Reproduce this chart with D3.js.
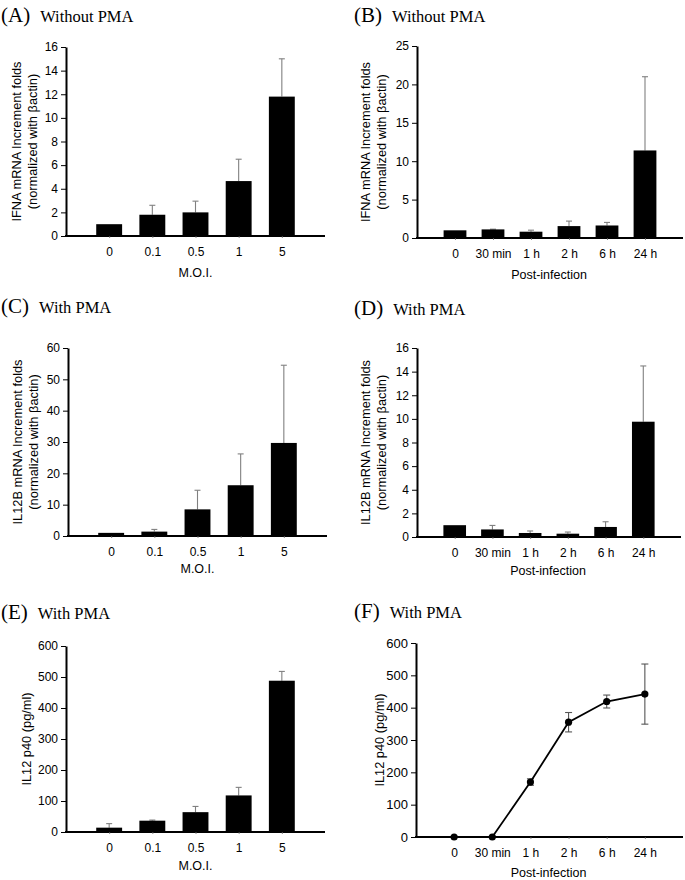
<!DOCTYPE html>
<html>
<head>
<meta charset="utf-8">
<script src="https://cdn.jsdelivr.net/npm/d3@7"></script>
<style>
  html, body { margin: 0; padding: 0; background: #fff; }
  svg { display: block; }
</style>
</head>
<body>
<svg id="chart" width="685" height="880"></svg>
<script>
// ---------- DATA ----------
const moiCats  = ["0", "0.1", "0.5", "1", "5"];
const timeCats = ["0", "30 min", "1 h", "2 h", "6 h", "24 h"];

const ifnaMoi      = [1.0, 1.8, 2.0, 4.65, 11.8];
const ifnaMoiErr   = [0, 0.8, 0.95, 1.85, 3.2];
const ifnaTime     = [1.0, 1.12, 0.82, 1.55, 1.63, 11.4];
const ifnaTimeErr  = [0, 0.03, 0.2, 0.65, 0.4, 9.6];

const il12bMoi     = [1.0, 1.4, 8.5, 16.2, 29.7];
const il12bMoiErr  = [0, 0.7, 6.1, 10.0, 24.8];
const il12bTime    = [1.0, 0.64, 0.34, 0.28, 0.85, 9.76];
const il12bTimeErr = [0, 0.34, 0.17, 0.14, 0.44, 4.72];

const p40Moi       = [14, 36.5, 64, 118, 488];
const p40MoiErr    = [13, 2, 18.5, 26, 30];
const p40Time      = [0, 0, 170, 355, 419, 442];
const p40TimeErr   = [0, 0, 10, 30, 20, 93];

const ticksA = [0, 2, 4, 6, 8, 10, 12, 14, 16];
const ticksB = [0, 5, 10, 15, 20, 25];
const ticksC = [0, 10, 20, 30, 40, 50, 60];
const ticksD = [0, 2, 4, 6, 8, 10, 12, 14, 16];
const ticksE = [0, 100, 200, 300, 400, 500, 600];
const ticksF = [0, 100, 200, 300, 400, 500, 600];

// ---------- DRAWING ----------
const svg = d3.select("#chart");
const sans = "'Liberation Sans', Arial, Helvetica, sans-serif";
const serif = "'Liberation Serif', 'Times New Roman', serif";

function panel(cfg) {
  const g = svg.append("g");
  const tf = cfg.tickFont || 12;
  // title
  const t = g.append("text")
    .attr("x", cfg.tx).attr("y", cfg.ty)
    .attr("font-family", serif).attr("fill", "#000");
  t.append("tspan").attr("font-size", 21).text(cfg.letter);
  t.append("tspan").attr("font-size", 16.5).attr("dx", 10).text(cfg.title);

  const x = d3.scalePoint().domain(cfg.cats).range([cfg.x0, cfg.x1]).padding(1);
  const yMax = cfg.ticks[cfg.ticks.length - 1];
  const y = d3.scaleLinear().domain([0, yMax]).range([cfg.y0, cfg.yTop]);
  const bw = x.step() * 0.6;

  if (cfg.type === "bar") {
    const eb = g.append("g").attr("stroke", "#808080").attr("stroke-width", 1.1);
    cfg.cats.forEach((c, i) => {
      if (cfg.err[i] <= 0) return;
      const cx = x(c);
      eb.append("line").attr("x1", cx).attr("x2", cx)
        .attr("y1", y(cfg.vals[i])).attr("y2", y(cfg.vals[i] + cfg.err[i]));
      eb.append("line").attr("x1", cx - 3).attr("x2", cx + 3)
        .attr("y1", y(cfg.vals[i] + cfg.err[i])).attr("y2", y(cfg.vals[i] + cfg.err[i]));
    });
    g.append("g").selectAll("rect").data(cfg.cats).join("rect")
      .attr("x", c => x(c) - bw / 2)
      .attr("width", bw)
      .attr("y", (c, i) => y(cfg.vals[i]))
      .attr("height", (c, i) => y(0) - y(cfg.vals[i]))
      .attr("fill", "#000");
  }

  // y axis
  const yAxis = d3.axisLeft(y).tickValues(cfg.ticks).tickSize(5).tickSizeOuter(0).tickPadding(3);
  const ya = g.append("g").attr("transform", `translate(${cfg.x0},0)`).call(yAxis);
  ya.select(".domain").attr("stroke", "#000").attr("stroke-width", 2);
  ya.selectAll(".tick line").attr("stroke", "#000").attr("stroke-width", 1);
  ya.selectAll(".tick text").attr("font-family", sans).attr("font-size", tf).attr("fill", "#000");

  // x axis
  const xAxis = d3.axisBottom(x).tickSize(2).tickSizeOuter(0).tickPadding(9);
  const xa = g.append("g").attr("transform", `translate(0,${cfg.y0})`).call(xAxis);
  xa.select(".domain").attr("stroke", "#000").attr("stroke-width", 2)
    .attr("d", `M${cfg.x0 - 1},0H${cfg.x1}`);
  xa.selectAll(".tick line").attr("stroke", "#666").attr("stroke-width", 0.8);
  xa.selectAll(".tick text").attr("font-family", sans).attr("font-size", 12).attr("fill", "#000");

  // x title
  g.append("text").attr("x", (cfg.x0 + cfg.x1) / 2 + cfg.xtOff).attr("y", cfg.y0 + cfg.xtDy)
    .attr("text-anchor", "middle").attr("font-family", sans).attr("font-size", 12.5)
    .attr("fill", "#000").text(cfg.xTitle);

  // y title
  const yc = (cfg.y0 + cfg.yTop) / 2;
  cfg.yTitle.forEach((line, k) => {
    g.append("text")
      .attr("transform", `translate(${cfg.ytx + k * 16},${yc}) rotate(-90)`)
      .attr("text-anchor", "middle").attr("font-family", sans).attr("font-size", 12.8)
      .attr("fill", "#000").text(line);
  });

  if (cfg.type === "line") {
    const eb = g.append("g").attr("stroke", "#555").attr("stroke-width", 1.1);
    cfg.cats.forEach((c, i) => {
      if (cfg.err[i] <= 0) return;
      const cx = x(c);
      const lo = y(cfg.vals[i] - cfg.err[i]), hi = y(cfg.vals[i] + cfg.err[i]);
      eb.append("line").attr("x1", cx).attr("x2", cx).attr("y1", lo).attr("y2", hi);
      eb.append("line").attr("x1", cx - 3.5).attr("x2", cx + 3.5).attr("y1", lo).attr("y2", lo);
      eb.append("line").attr("x1", cx - 3.5).attr("x2", cx + 3.5).attr("y1", hi).attr("y2", hi);
    });
    const pts = cfg.cats.map((c, i) => [x(c), y(cfg.vals[i])]);
    g.append("path").datum(pts.slice(1))
      .attr("d", d3.line())
      .attr("fill", "none").attr("stroke", "#000").attr("stroke-width", 1.8);
    g.append("g").selectAll("circle").data(pts).join("circle")
      .attr("cx", d => d[0]).attr("cy", d => d[1]).attr("r", 3.6).attr("fill", "#000");
  }
}

const mrnaTitle = (gene) => [gene + " mRNA Increment folds", "(normalized with \u03b2actin)"];

panel({ letter: "(A)", title: "Without PMA", tx: 1, ty: 22, type: "bar",
  cats: moiCats, vals: ifnaMoi, err: ifnaMoiErr, ticks: ticksA,
  x0: 66, x1: 325, yTop: 47, y0: 236, xTitle: "M.O.I.", xtDy: 41, xtOff: 0,
  yTitle: mrnaTitle("IFNA"), ytx: 21 });

panel({ letter: "(B)", title: "Without PMA", tx: 354, ty: 22, type: "bar",
  cats: timeCats, vals: ifnaTime, err: ifnaTimeErr, ticks: ticksB,
  x0: 417, x1: 683, yTop: 46, y0: 238, xTitle: "Post-infection", xtDy: 41, xtOff: -1,
  yTitle: mrnaTitle("IFNA"), ytx: 370 });

panel({ letter: "(C)", title: "With PMA", tx: 1, ty: 313, type: "bar",
  cats: moiCats, vals: il12bMoi, err: il12bMoiErr, ticks: ticksC,
  x0: 68, x1: 327, yTop: 348, y0: 536, xTitle: "M.O.I.", xtDy: 37, xtOff: 0,
  yTitle: mrnaTitle("IL12B"), ytx: 22 });

panel({ letter: "(D)", title: "With PMA", tx: 354, ty: 315, type: "bar",
  cats: timeCats, vals: il12bTime, err: il12bTimeErr, ticks: ticksD,
  x0: 417, x1: 681, yTop: 348, y0: 537, xTitle: "Post-infection", xtDy: 38, xtOff: -1,
  yTitle: mrnaTitle("IL12B"), ytx: 370 });

panel({ letter: "(E)", title: "With PMA", tx: 1, ty: 619, type: "bar",
  cats: moiCats, vals: p40Moi, err: p40MoiErr, ticks: ticksE,
  x0: 66, x1: 325, yTop: 646, y0: 832, xTitle: "M.O.I.", xtDy: 38, xtOff: 0,
  yTitle: ["IL12 p40 (pg/ml)"], ytx: 31 });

panel({ letter: "(F)", title: "With PMA", tx: 354, ty: 618, type: "line",
  cats: timeCats, vals: p40Time, err: p40TimeErr, ticks: ticksF, tickFont: 13,
  x0: 416, x1: 683, yTop: 643, y0: 837, xTitle: "Post-infection", xtDy: 40, xtOff: -1,
  yTitle: ["IL12 p40 (pg/ml)"], ytx: 384 });
</script>
</body>
</html>
